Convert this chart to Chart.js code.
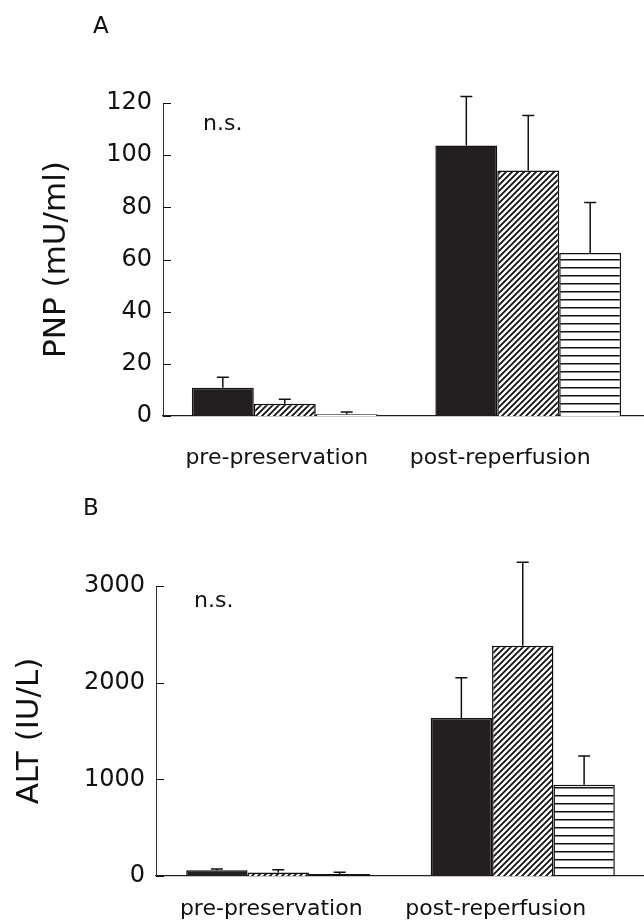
<!DOCTYPE html>
<html lang="en">
<head>
  <meta charset="UTF-8">
  <title>PNP and ALT</title>
  <script src="https://cdn.jsdelivr.net/npm/chart.js"></script>
  <style>
    html, body { margin: 0; padding: 0; background: #fff; overflow: hidden; }
    #wrap { position: relative; width: 644px; height: 922px; overflow: hidden; }
    .panel { position: absolute; left: 0; }
    #panelA { top: 0; }
    #panelB { top: 480px; }
  </style>
</head>
<body>
<div id="wrap">
  <div class="panel" id="panelA"><canvas id="chartA" width="650" height="480"></canvas></div>
  <div class="panel" id="panelB"><canvas id="chartB" width="645" height="442"></canvas></div>
</div>
<script>
// categories and series
const groups = ['pre-preservation', 'post-reperfusion'];
const seriesNames = ['Group 1', 'Group 2', 'Group 3'];

// panel A: PNP (mU/ml), means and upper SD
const pnpGroup1 = [10.8, 103.7];
const pnpGroup2 = [4.7, 94.1];
const pnpGroup3 = [0.7, 62.5];
const pnpSd1 = [4.1, 18.8];
const pnpSd2 = [1.7, 21.1];
const pnpSd3 = [0.8, 19.4];

// panel B: ALT (IU/L), means and upper SD
const altGroup1 = [60, 1634];
const altGroup2 = [35, 2383];
const altGroup3 = [20, 945];
const altSd1 = [12, 418];
const altSd2 = [30, 862];
const altSd3 = [20, 296];

Chart.defaults.font.family = "'DejaVu Sans', sans-serif";
Chart.defaults.color = '#111';

// fill patterns
function hatchPattern() {
  const c = document.createElement('canvas');
  c.width = c.height = 6;
  const g = c.getContext('2d');
  g.fillStyle = '#fff';
  g.fillRect(0, 0, 6, 6);
  g.strokeStyle = '#111';
  g.lineWidth = 1.8;
  g.beginPath();
  g.moveTo(-1, 7); g.lineTo(7, -1);
  g.moveTo(-1, 1); g.lineTo(1, -1);
  g.moveTo(5, 7); g.lineTo(7, 5);
  g.stroke();
  return g.createPattern(c, 'repeat');
}
function linePattern() {
  const c = document.createElement('canvas');
  c.width = 4; c.height = 8;
  const g = c.getContext('2d');
  g.fillStyle = '#fff';
  g.fillRect(0, 0, 4, 8);
  g.fillStyle = '#111';
  g.fillRect(0, 3, 4, 1.5);
  return g.createPattern(c, 'repeat');
}
const fills = ['#231f20', hatchPattern(), linePattern()];

// error bars, inner ticks, category labels, n.s. and panel letter
const panelDecor = {
  id: 'panelDecor',
  afterDatasetsDraw(chart, args, o) {
    const ctx = chart.ctx, area = chart.chartArea;
    const xs = chart.scales.x, ys = chart.scales.y;
    ctx.save();
    ctx.strokeStyle = '#111';
    ctx.lineWidth = 1.5;
    chart.data.datasets.forEach((ds, i) => {
      chart.getDatasetMeta(i).data.forEach((bar, j) => {
        const top = ys.getPixelForValue(ds.data[j] + ds.sd[j]);
        ctx.beginPath();
        ctx.moveTo(bar.x, bar.y);
        ctx.lineTo(bar.x, top);
        ctx.moveTo(bar.x - 6, top);
        ctx.lineTo(bar.x + 6, top);
        ctx.stroke();
      });
    });
    ctx.lineWidth = 1;
    ys.ticks.forEach(t => {
      const py = Math.round(ys.getPixelForValue(t.value)) + 0.5;
      ctx.beginPath();
      ctx.moveTo(area.left, py);
      ctx.lineTo(area.left + 8, py);
      ctx.stroke();
    });
    ctx.fillStyle = '#111';
    ctx.textBaseline = 'alphabetic';
    ctx.font = "22px 'DejaVu Sans'";
    ctx.textAlign = 'center';
    groups.forEach((g, j) => {
      ctx.fillText(g, xs.getPixelForValue(j) + o.labelShift[j], area.bottom + o.labelGap);
    });
    ctx.textAlign = 'left';
    ctx.fillText('n.s.', area.left + o.nsDx, area.top + o.nsDy);
    ctx.font = "23px 'DejaVu Sans'";
    ctx.fillText(o.letter, o.letterX, o.letterY);
    ctx.restore();
  }
};

function makeChart(id, cfg) {
  const datasets = cfg.values.map((v, i) => ({
    label: seriesNames[i],
    data: v,
    sd: cfg.sds[i],
    backgroundColor: fills[i],
    borderColor: '#111',
    borderWidth: 1.5
  }));
  return new Chart(document.getElementById(id), {
    type: 'bar',
    data: { labels: groups, datasets: datasets },
    options: {
      responsive: false,
      animation: false,
      layout: { padding: { top: cfg.padTop, bottom: cfg.padBottom, left: cfg.padLeft, right: 0 } },
      datasets: { bar: { categoryPercentage: cfg.catPct, barPercentage: 1 } },
      plugins: {
        legend: { display: false },
        tooltip: { enabled: false },
        panelDecor: cfg.decor
      },
      scales: {
        x: {
          grid: { display: false, drawTicks: false },
          ticks: { display: false },
          border: { display: true, color: '#222', width: 1.2 }
        },
        y: {
          min: 0,
          max: cfg.max,
          ticks: { stepSize: cfg.step, padding: 11, color: '#111', font: { size: 24 }, callback: v => String(v) },
          grid: { display: false, drawTicks: false },
          border: { display: true, color: '#333', width: 1 },
          title: { display: true, text: cfg.title, color: '#111', font: { size: 31 }, padding: 0 },
          afterFit: s => { s.width = cfg.axisX - cfg.padLeft; }
        }
      }
    },
    plugins: [panelDecor]
  });
}

makeChart('chartA', {
  values: [pnpGroup1, pnpGroup2, pnpGroup3],
  sds: [pnpSd1, pnpSd2, pnpSd3],
  max: 120, step: 20,
  title: 'PNP (mU/ml)',
  padTop: 103, padBottom: 64, padLeft: 38, axisX: 163,
  catPct: 0.763,
  decor: { labelShift: [-8, -28], labelGap: 48, nsDx: 40, nsDy: 27, letter: 'A', letterX: 93, letterY: 33 }
});

makeChart('chartB', {
  values: [altGroup1, altGroup2, altGroup3],
  sds: [altSd1, altSd2, altSd3],
  max: 3000, step: 1000,
  title: 'ALT (IU/L)',
  padTop: 106, padBottom: 46, padLeft: 11, axisX: 156,
  catPct: 0.753,
  decor: { labelShift: [-7, -27], labelGap: 39, nsDx: 38, nsDy: 21, letter: 'B', letterX: 83, letterY: 35 }
});
</script>
</body>
</html>
